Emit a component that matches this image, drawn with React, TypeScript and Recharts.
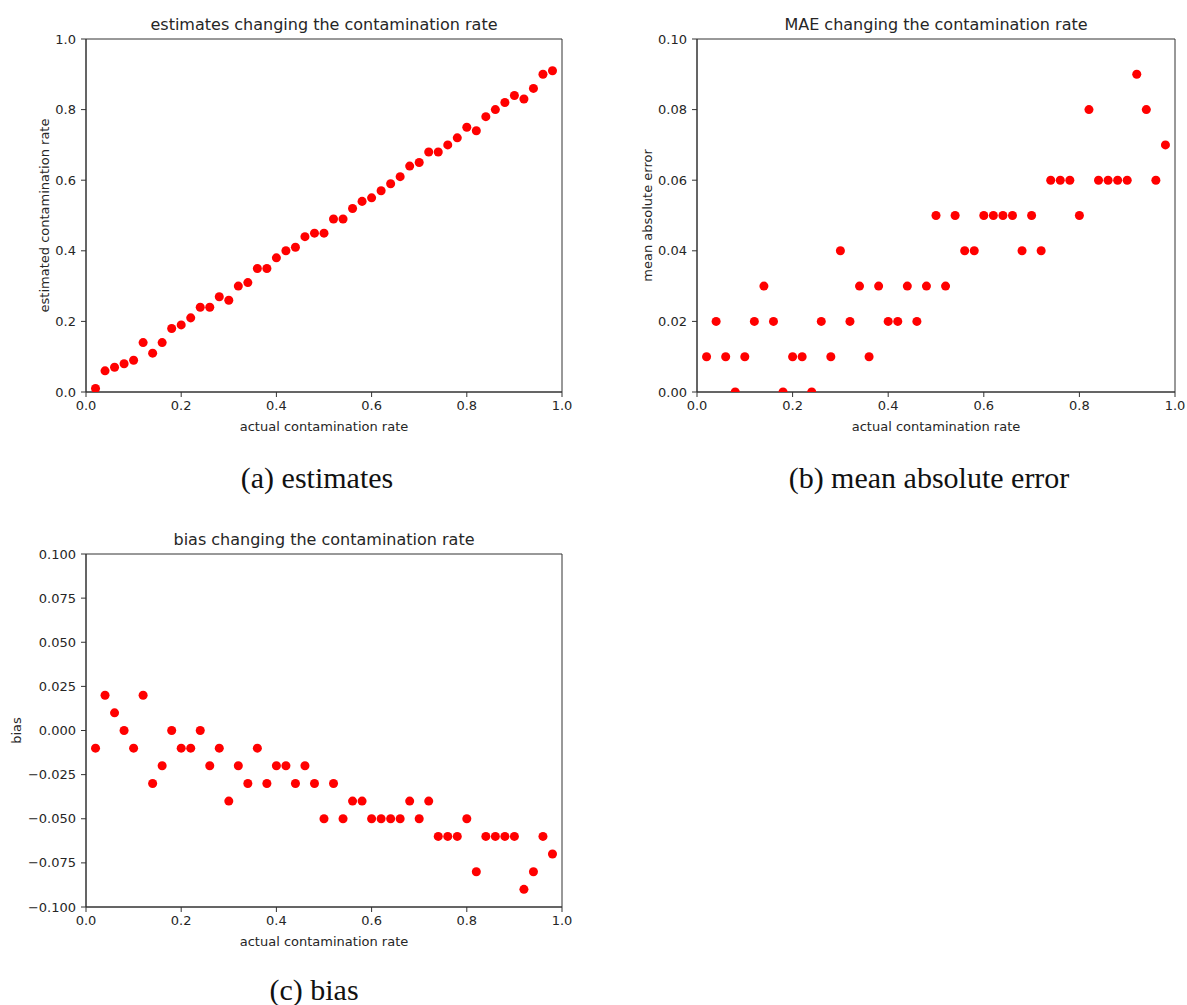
import React from "react";
import { ScatterChart, Scatter, XAxis, YAxis, ZAxis, ReferenceArea } from "recharts";

// actual contamination rate (shared x values)
const actualRates = [
  0.02, 0.04, 0.06, 0.08, 0.1, 0.12, 0.14, 0.16, 0.18, 0.2,
  0.22, 0.24, 0.26, 0.28, 0.3, 0.32, 0.34, 0.36, 0.38, 0.4,
  0.42, 0.44, 0.46, 0.48, 0.5, 0.52, 0.54, 0.56, 0.58, 0.6,
  0.62, 0.64, 0.66, 0.68, 0.7, 0.72, 0.74, 0.76, 0.78, 0.8,
  0.82, 0.84, 0.86, 0.88, 0.9, 0.92, 0.94, 0.96, 0.98,
];

const estimatedRates = [
  0.01, 0.06, 0.07, 0.08, 0.09, 0.14, 0.11, 0.14, 0.18, 0.19,
  0.21, 0.24, 0.24, 0.27, 0.26, 0.3, 0.31, 0.35, 0.35, 0.38,
  0.4, 0.41, 0.44, 0.45, 0.45, 0.49, 0.49, 0.52, 0.54, 0.55,
  0.57, 0.59, 0.61, 0.64, 0.65, 0.68, 0.68, 0.7, 0.72, 0.75,
  0.74, 0.78, 0.8, 0.82, 0.84, 0.83, 0.86, 0.9, 0.91,
];

const maeValues = [
  0.01, 0.02, 0.01, 0.0, 0.01, 0.02, 0.03, 0.02, 0.0, 0.01,
  0.01, 0.0, 0.02, 0.01, 0.04, 0.02, 0.03, 0.01, 0.03, 0.02,
  0.02, 0.03, 0.02, 0.03, 0.05, 0.03, 0.05, 0.04, 0.04, 0.05,
  0.05, 0.05, 0.05, 0.04, 0.05, 0.04, 0.06, 0.06, 0.06, 0.05,
  0.08, 0.06, 0.06, 0.06, 0.06, 0.09, 0.08, 0.06, 0.07,
];

const biasValues = [
  -0.01, 0.02, 0.01, 0.0, -0.01, 0.02, -0.03, -0.02, 0.0, -0.01,
  -0.01, 0.0, -0.02, -0.01, -0.04, -0.02, -0.03, -0.01, -0.03, -0.02,
  -0.02, -0.03, -0.02, -0.03, -0.05, -0.03, -0.05, -0.04, -0.04, -0.05,
  -0.05, -0.05, -0.05, -0.04, -0.05, -0.04, -0.06, -0.06, -0.06, -0.05,
  -0.08, -0.06, -0.06, -0.06, -0.06, -0.09, -0.08, -0.06, -0.07,
];

const xTicks = [0, 0.2, 0.4, 0.6, 0.8, 1.0];
const estTicks = [0, 0.2, 0.4, 0.6, 0.8, 1.0];
const maeTicks = [0, 0.02, 0.04, 0.06, 0.08, 0.1];
const biasTicks = [-0.1, -0.075, -0.05, -0.025, 0, 0.025, 0.05, 0.075, 0.1];

const SANS = "DejaVu Sans";
const INK = "#262626";

const toPoints = (ys: number[]) => actualRates.map((x, i) => ({ x, y: ys[i] }));
const fmt = (digits: number) => (v: number) => v.toFixed(digits).replace("-", "\u2212");

interface PanelProps {
  left: number;
  top: number;
  width: number;
  yAxisWidth: number;
  rightMargin: number;
  title: string;
  yLabel: string;
  yLabelX: number;
  values: number[];
  yDomain: [number, number];
  yTicks: number[];
  yDigits: number;
}

const Panel: React.FC<PanelProps> = (p) => {
  const height = 440;
  const plotTop = 39;
  const plotLeft = p.yAxisWidth;
  const plotWidth = p.width - p.yAxisWidth - p.rightMargin;
  return (
    <div style={{ position: "absolute", left: p.left, top: p.top, width: p.width, height }}>
      <div
        style={{
          position: "absolute",
          left: plotLeft,
          width: plotWidth,
          top: 17,
          textAlign: "center",
          fontFamily: SANS,
          fontSize: 16,
          lineHeight: "16px",
          color: INK,
          whiteSpace: "nowrap",
        }}
      >
        {p.title}
      </div>
      <ScatterChart
        width={p.width}
        height={height}
        margin={{ top: plotTop, right: p.rightMargin, bottom: 0, left: 0 }}
        style={{ fontFamily: SANS }}
      >
        <XAxis
          type="number"
          dataKey="x"
          domain={[0, 1]}
          ticks={xTicks}
          tickFormatter={fmt(1)}
          allowDataOverflow
          height={48}
          tickSize={5}
          tickMargin={4}
          stroke="#333"
          tick={{ fill: INK, fontSize: 13 }}
          label={{
            value: "actual contamination rate",
            position: "insideBottom",
            offset: 9,
            style: { fill: INK, fontSize: 13 },
          }}
        />
        <YAxis
          type="number"
          dataKey="y"
          domain={p.yDomain}
          ticks={p.yTicks}
          tickFormatter={fmt(p.yDigits)}
          allowDataOverflow
          width={p.yAxisWidth}
          tickSize={5}
          tickMargin={5}
          stroke="#333"
          tick={{ fill: INK, fontSize: 13 }}
          label={{
            value: p.yLabel,
            angle: -90,
            position: "insideLeft",
            offset: p.yLabelX,
            style: { fill: INK, fontSize: 13, textAnchor: "middle" },
          }}
        />
        <ZAxis type="number" range={[82, 82]} />
        <ReferenceArea
          x1={0}
          x2={1}
          y1={p.yDomain[0]}
          y2={p.yDomain[1]}
          ifOverflow="visible"
          fill="none"
          stroke="#333"
          strokeOpacity={1}
        />
        <Scatter data={toPoints(p.values)} fill="#ff0000" isAnimationActive={false} />
      </ScatterChart>
    </div>
  );
};

const captionStyle: React.CSSProperties = {
  position: "absolute",
  width: 500,
  textAlign: "center",
  fontFamily: "Liberation Serif",
  fontSize: 30,
  lineHeight: "34px",
  color: "#111",
  whiteSpace: "nowrap",
};

export default function App() {
  return (
    <div style={{ position: "absolute", left: 0, top: 0, width: 1187, height: 1005, background: "#fff", overflow: "hidden" }}>
      <Panel
        left={0}
        top={0}
        width={600}
        yAxisWidth={86}
        rightMargin={38}
        title="estimates changing the contamination rate"
        yLabel="estimated contamination rate"
        yLabelX={44}
        values={estimatedRates}
        yDomain={[0, 1]}
        yTicks={estTicks}
        yDigits={1}
      />
      <Panel
        left={610}
        top={0}
        width={577}
        yAxisWidth={87}
        rightMargin={12}
        title="MAE changing the contamination rate"
        yLabel="mean absolute error"
        yLabelX={37}
        values={maeValues}
        yDomain={[0, 0.1]}
        yTicks={maeTicks}
        yDigits={2}
      />
      <Panel
        left={0}
        top={515}
        width={600}
        yAxisWidth={86}
        rightMargin={38}
        title="bias changing the contamination rate"
        yLabel="bias"
        yLabelX={16}
        values={biasValues}
        yDomain={[-0.1, 0.1]}
        yTicks={biasTicks}
        yDigits={3}
      />
      <div style={{ ...captionStyle, left: 317 - 250, top: 461 }}>(a) estimates</div>
      <div style={{ ...captionStyle, left: 929 - 250, top: 461 }}>(b) mean absolute error</div>
      <div style={{ ...captionStyle, left: 314 - 250, top: 973 }}>(c) bias</div>
    </div>
  );
}
